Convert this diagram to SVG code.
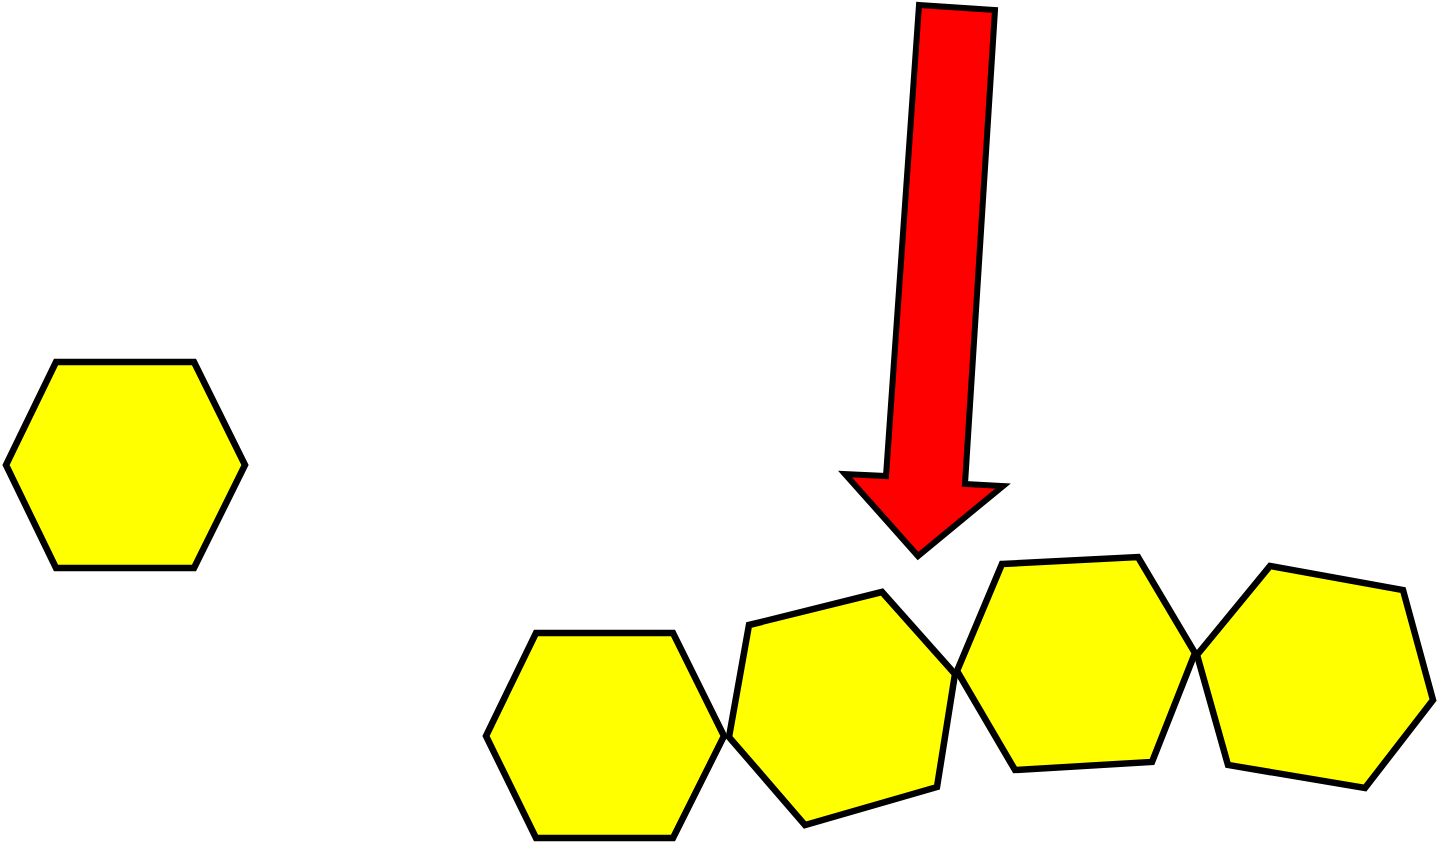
<svg xmlns="http://www.w3.org/2000/svg" width="1440" height="846" viewBox="0 0 1440 846">
<style>
.hex{fill:#ffff00;stroke:#000;stroke-width:6.5;stroke-linejoin:miter}
.arrow{fill:#ff0000;stroke:#000;stroke-width:6;stroke-linejoin:miter}
</style>
<rect width="1440" height="846" fill="#fff"/>
<g id="hex-single"><polygon class="hex" points="56,362 194,362 245,465 194,568 56,568 6,465"/></g>
<g id="hex-chain-1"><polygon class="hex" points="536,633 673,633 724,736 673,838 536,838 486,736"/></g>
<g id="hex-chain-2"><polygon class="hex" points="749,625 882,592 955,674 937,787 805,825 729,737"/></g>
<g id="hex-chain-3"><polygon class="hex" points="1002,564 1138,557 1195,653 1152,762 1015,770 957,671"/></g>
<g id="hex-chain-4"><polygon class="hex" points="1270,566 1403,590 1433,700 1365,788 1228,765 1197,655"/></g>
<g id="connectors"><polygon id="arrow" class="arrow" points="919,5 995,10 965,484 1003,486 918,556 845,474 886,476"/></g>
</svg>
